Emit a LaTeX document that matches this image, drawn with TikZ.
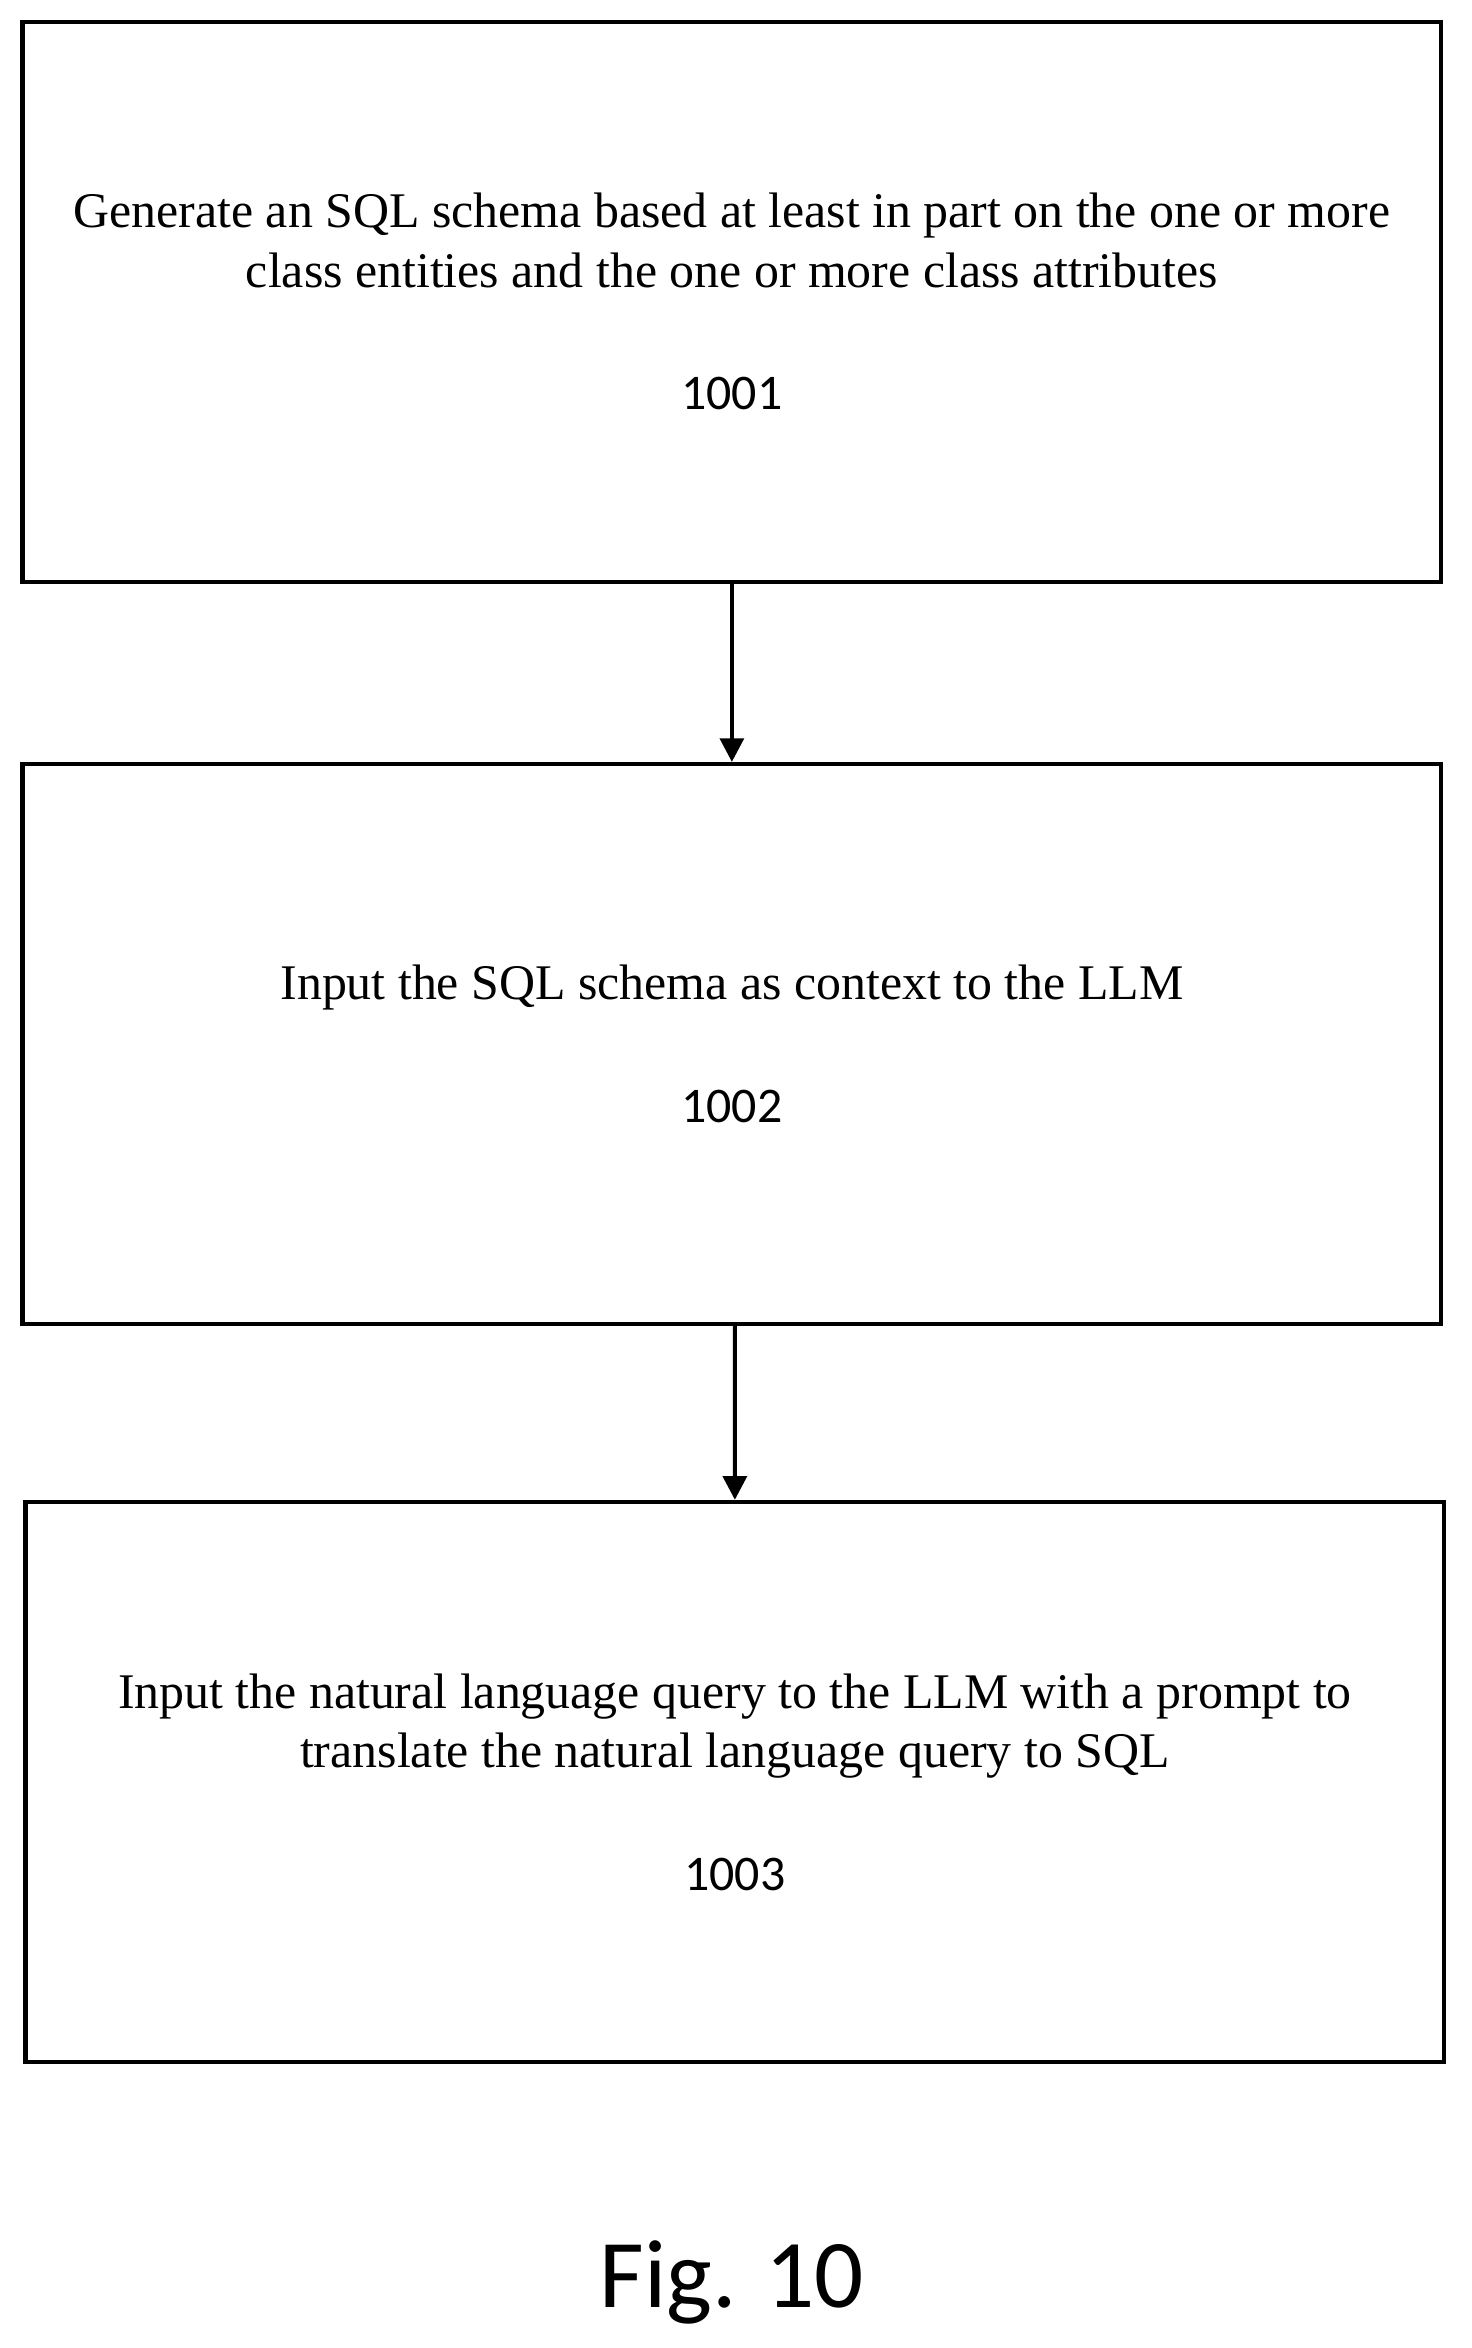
\documentclass[tikz,border=0pt]{standalone}
\usepackage{fontspec}
\setmainfont{Liberation Serif}
\newfontfamily\numfont{Carlito}
\usetikzlibrary{arrows.meta}

\begin{document}
\begin{tikzpicture}
            [x=0.02cm,y=-0.02cm,thick,
             stepbox/.style={draw,line width=1.6pt,minimum width=19cm,minimum height=7.5cm,align=center,font=\fontsize{19}{22.7}\selectfont},
             flow/.style={line width=1.6pt,-{Triangle[length=9pt,width=9pt]}}]
            \useasboundingbox (0,0) rectangle (985,1572);
            \node[stepbox] (s1) at (490, 202) {Generate an SQL schema based at least in part on the one or more\\class entities and the one or more class attributes\\[24pt]{\numfont 1001}};
            \node[stepbox] (s2) at (490, 699) {Input the SQL schema as context to the LLM\\[24pt]{\numfont 1002}};
            \node[stepbox] (s3) at (492, 1193) {Input the natural language query to the LLM with a prompt to\\translate the natural language query to SQL\\[24pt]{\numfont 1003}};
            \node[font=\numfont\fontsize{37}{44}\selectfont] (fig) at (490, 1528) {Fig. 10};
            \draw[flow] (s1.south) -- (s2.north);
            \draw[flow] ([xshift=0.04cm]s2.south) -- (s3.north);

        \end{tikzpicture}
\end{document}
